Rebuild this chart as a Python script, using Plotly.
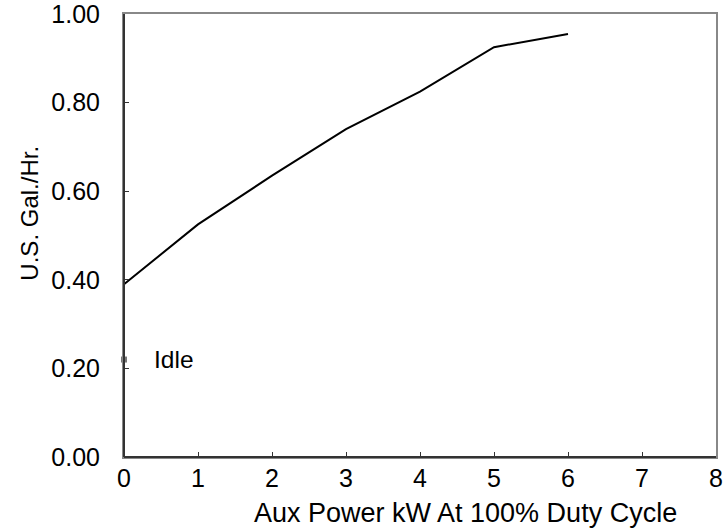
import plotly.graph_objects as go

# Data
aux_power_kw = [0, 1, 2, 3, 4, 5, 6]
gal_per_hr = [0.39, 0.525, 0.635, 0.74, 0.825, 0.925, 0.955]
idle_x = [0]
idle_y = [0.22]
idle_label = "Idle"
x_title = "Aux Power kW At 100% Duty Cycle"
y_title = "U.S. Gal./Hr."
x_ticks = [0, 1, 2, 3, 4, 5, 6, 7, 8]
y_ticks = [0.0, 0.2, 0.4, 0.6, 0.8, 1.0]
y_tick_labels = ["0.00", "0.20", "0.40", "0.60", "0.80", "1.00"]

FONT = "Liberation Sans, Arial, Helvetica, sans-serif"

fig = go.Figure()
fig.add_trace(go.Scatter(
    x=aux_power_kw, y=gal_per_hr, mode="lines",
    line=dict(color="#000000", width=2), showlegend=False, cliponaxis=False,
))
fig.add_trace(go.Scatter(
    x=idle_x, y=idle_y, mode="markers",
    marker=dict(symbol="square", size=6, color="#777777"),
    showlegend=False, cliponaxis=False,
))

fig.add_annotation(x=0.38, y=idle_y[0], xref="x", yref="y", text=idle_label,
                   showarrow=False, xanchor="left", yanchor="middle",
                   font=dict(family=FONT, size=24.5, color="#000000"))
fig.add_annotation(x=0.5776, y=-0.127, xref="paper", yref="paper", text=x_title,
                   showarrow=False, xanchor="center", yanchor="middle",
                   font=dict(family=FONT, size=27, color="#000000"))
fig.add_annotation(x=-0.160, y=0.55, xref="paper", yref="paper", text=y_title,
                   textangle=-90, showarrow=False, xanchor="center", yanchor="middle",
                   font=dict(family=FONT, size=24, color="#000000"))

# darker left / bottom axis lines over the gray mirrored frame
fig.add_shape(type="line", xref="paper", yref="paper", x0=0, x1=0, y0=0, y1=1,
              line=dict(color="#333333", width=2), layer="above")
fig.add_shape(type="line", xref="paper", yref="paper", x0=0, x1=1, y0=0, y1=0,
              line=dict(color="#333333", width=2), layer="above")

fig.update_layout(
    template="none",
    width=725, height=531,
    margin=dict(l=123.5, r=8.5, t=14, b=73.5),
    paper_bgcolor="white", plot_bgcolor="white",
    font=dict(family=FONT, size=25, color="#000000"),
    xaxis=dict(range=[0, 8], tickvals=x_ticks, ticks="inside", ticklen=5,
               tickcolor="#333333", showline=True, linecolor="#888888", linewidth=2,
               mirror=True,
               showgrid=False, zeroline=False, automargin=False,
               ticklabeloverflow="allow",
               tickfont=dict(family=FONT, size=25), ticklabelstandoff=-2),
    yaxis=dict(range=[0, 1.0], tickvals=y_ticks, ticktext=y_tick_labels,
               ticks="inside", ticklen=5, tickcolor="#333333",
               showline=True, linecolor="#888888", linewidth=2,
               mirror=True,
               showgrid=False, zeroline=False, automargin=False,
               ticklabeloverflow="allow",
               tickfont=dict(family=FONT, size=25), ticklabelstandoff=17),
)

fig.write_html("out.html",
               config={"displayModeBar": False},
               post_script="document.body.style.margin='0';document.body.style.overflow='hidden';")
